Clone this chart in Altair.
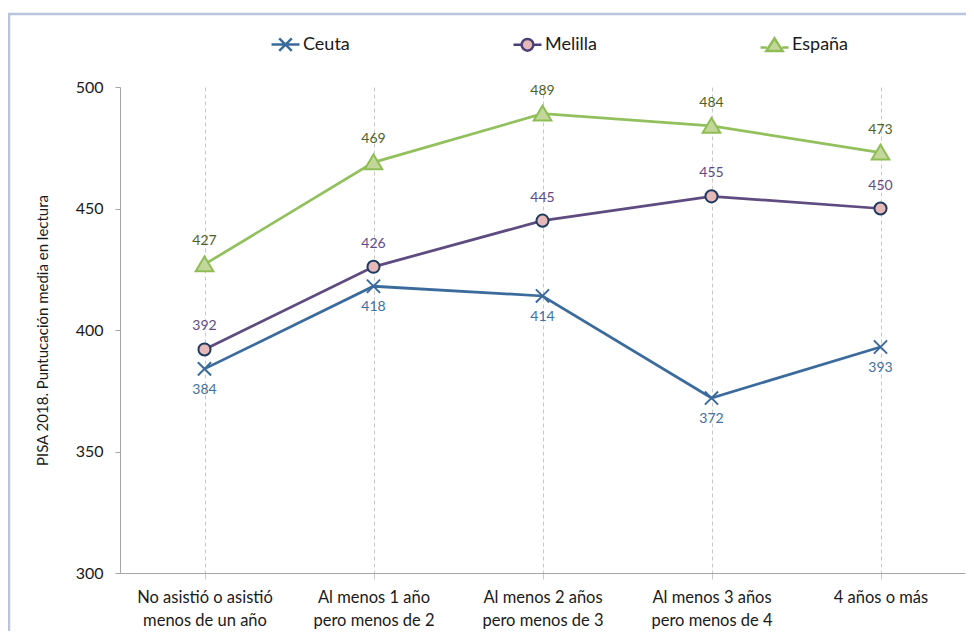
import altair as alt
import pandas as pd

categorias = [
    "No asistió o asistió\nmenos de un año",
    "Al menos 1 año\npero menos de 2",
    "Al menos 2 años\npero menos de 3",
    "Al menos 3 años\npero menos de 4",
    "4 años o más",
]
series = ["Ceuta", "Melilla", "España"]
ceuta = [384, 418, 414, 372, 393]
melilla = [392, 426, 445, 455, 450]
espana = [427, 469, 489, 484, 473]
y_ticks = [300, 350, 400, 450, 500]

valores = {"Ceuta": ceuta, "Melilla": melilla, "España": espana}
rows = []
for s in series:
    for c, v in zip(categorias, valores[s]):
        rows.append({"cat": c, "serie": s, "s": s, "s2": s, "valor": v})
df = pd.DataFrame(rows)

# styles
FONT = "Lato"
line_col = {"Ceuta": "#3b6b9c", "Melilla": "#5e4b80", "España": "#92c05c"}
mk_stroke = {"Ceuta": "#3b6b9c", "Melilla": "#1f3a60", "España": "#8ebd55"}
mk_fill = {"Ceuta": "#3b6b9c", "Melilla": "#e6b8b7", "España": "#c4d79b"}
lab_col = {"Ceuta": "#3f6fa3", "Melilla": "#604a8a", "España": "#4f6228"}
lab_dy = {"Ceuta": 21, "Melilla": -23, "España": -23}
shapes = {
    "Ceuta": "M-0.6,-0.6L0.6,0.6M-0.6,0.6L0.6,-0.6",
    "Melilla": "M-0.55,0A0.55,0.55 0 1,1 0.55,0A0.55,0.55 0 1,1 -0.55,0Z",
    "España": "M-0.8,0.62L0,-0.72L0.8,0.62Z",
}
# legend symbols (28px wide): line segment plus marker
leg_shapes = {
    "Ceuta": "M-1,0L1,0M-0.45,-0.45L0.45,0.45M-0.45,0.45L0.45,-0.45",
    "Melilla": "M-1,0L-0.42,0M0.42,0L1,0M-0.42,0A0.42,0.42 0 1,1 0.42,0A0.42,0.42 0 1,1 -0.42,0Z",
    "España": "M-1,0.2L-0.55,0.2M0.55,0.2L1,0.2M-0.58,0.45L0,-0.45L0.58,0.45Z",
}
leg_stroke = {"Ceuta": "#3b6b9c", "Melilla": "#4a3f78", "España": "#8ebd55"}

x_enc = alt.X(
    "cat:N",
    sort=categorias,
    scale=alt.Scale(type="point", padding=0.5),
    axis=alt.Axis(
        title=None,
        labelExpr="split(datum.label, '\\n')",
        labelAngle=0,
        labelOverlap=False,
        labelLimit=300,
        grid=True,
        gridDash=[4, 3],
        gridColor="#c8c8c8",
        tickColor="#c8c8c8",
        tickSize=6,
        domainColor="#a6a6a6",
        labelFont=FONT,
        labelFontSize=16.5,
        labelColor="#1a1a1a",
        labelPadding=10,
        labelLineHeight=23,
        labelBaseline="top",
    ),
)
y_enc = alt.Y(
    "valor:Q",
    scale=alt.Scale(domain=[300, 500], nice=False, zero=False),
    axis=alt.Axis(
        values=y_ticks,
        grid=False,
        title="PISA 2018. Puntucación media en lectura",
        titleFont=FONT,
        titleFontSize=15,
        titleFontWeight="normal",
        titleColor="#1a1a1a",
        titlePadding=25,
        tickSize=5,
        tickColor="#a6a6a6",
        domainColor="#a6a6a6",
        labelPadding=12,
        labelFont=FONT,
        labelFontSize=16,
        labelColor="#1a1a1a",
    ),
)

leg = alt.Legend(
    orient="none",
    legendX=150,
    legendY=-58,
    direction="horizontal",
    title=None,
    symbolSize=784,
    symbolStrokeWidth=2.5,
    labelFont=FONT,
    labelFontSize=18,
    labelColor="#1a1a1a",
    labelOffset=2,
    columnPadding=158,
)

border = alt.Chart(pd.DataFrame({"z": [0]})).mark_rect(
    filled=False, stroke="#b9c5df", strokeWidth=2.5
).encode(
    x=alt.value(-111), x2=alt.value(900), y=alt.value(-73), y2=alt.value(700)
)

lines = alt.Chart(df).mark_line(strokeWidth=2.75).encode(
    x=x_enc,
    y=y_enc,
    color=alt.Color(
        "serie:N",
        scale=alt.Scale(domain=series, range=[line_col[s] for s in series]),
        legend=None,
    ),
)

points = alt.Chart(df).mark_point(size=484, opacity=1, fillOpacity=1, strokeWidth=2).encode(
    x=x_enc,
    y=y_enc,
    shape=alt.Shape("s:N", scale=alt.Scale(domain=series, range=[shapes[s] for s in series]), legend=None),
    fill=alt.Fill("s:N", scale=alt.Scale(domain=series, range=[mk_fill[s] for s in series]), legend=None),
    stroke=alt.Stroke("s:N", scale=alt.Scale(domain=series, range=[mk_stroke[s] for s in series]), legend=None),
)

# legend-only layer (no data drawn)
legend_layer = alt.Chart(df).transform_filter("false").mark_point(
    size=784, opacity=1, fillOpacity=1, strokeWidth=2.5
).encode(
    x=x_enc,
    y=y_enc,
    shape=alt.Shape("s2:N", scale=alt.Scale(domain=series, range=[leg_shapes[s] for s in series]), legend=leg),
    fill=alt.Fill("s2:N", scale=alt.Scale(domain=series, range=[mk_fill[s] for s in series]), legend=leg),
    stroke=alt.Stroke("s2:N", scale=alt.Scale(domain=series, range=[leg_stroke[s] for s in series]), legend=leg),
)

texts = []
for s in series:
    texts.append(
        alt.Chart(df)
        .transform_filter(alt.datum.serie == s)
        .mark_text(dy=lab_dy[s], color=lab_col[s], font=FONT, fontSize=14)
        .encode(x=x_enc, y=y_enc, text="valor:Q")
    )

chart = (
    alt.layer(border, lines, points, legend_layer, *texts)
    .resolve_scale(shape="independent", fill="independent", stroke="independent")
    .properties(
        width=845,
        height=486,
        padding={"left": 112, "top": 79, "right": 1, "bottom": 58},
        autosize=alt.AutoSizeParams(type="none"),
        background="white",
    )
    .configure_view(stroke=None)
)

chart.save("out.html", embed_options={"renderer": "svg", "actions": False})
